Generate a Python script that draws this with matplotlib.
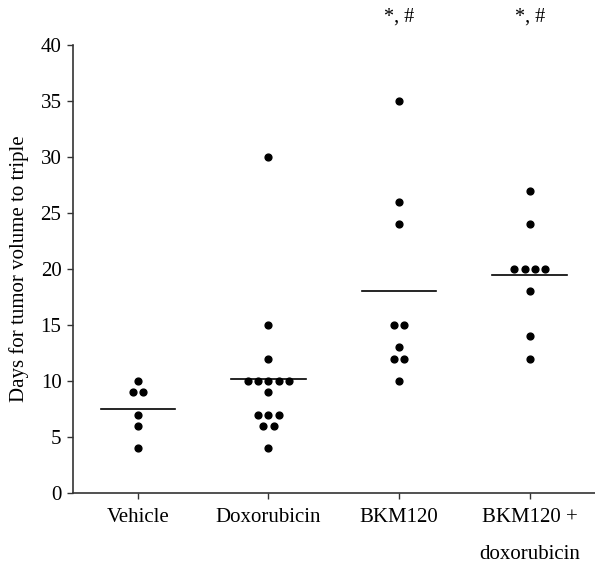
import numpy as np
import matplotlib
matplotlib.use("Agg")
import matplotlib.pyplot as plt

# days for tumor volume to triple, one entry per mouse
groups = ["Vehicle", "Doxorubicin", "BKM120", "BKM120 +\ndoxorubicin"]
vehicle = [10, 9, 9, 7, 6, 4]
doxorubicin = [30, 15, 12, 10, 10, 10, 10, 10, 9, 7, 7, 7, 6, 6, 4]
bkm120 = [35, 26, 24, 15, 15, 13, 12, 12, 10]
bkm120_doxo = [27, 24, 20, 20, 20, 20, 18, 14, 12]
signif = ["", "", "*, #", "*, #"]

data = [vehicle, doxorubicin, bkm120, bkm120_doxo]

plt.rcParams['font.family'] = ['Liberation Serif', 'DejaVu Serif']
fig = plt.figure(figsize=(5.95, 5.67), dpi=100)
ax = fig.add_axes([0.122, 0.1305, 0.878, 0.790])

dx = 0.0795  # horizontal spacing between tied points
for i, vals in enumerate(data):
    x0 = i + 1
    vals = np.array(vals)
    for v in np.unique(vals):
        n = np.sum(vals == v)
        xs = x0 + (np.arange(n) - (n - 1) / 2) * dx
        ax.plot(xs, [v] * n, 'o', color='black', markersize=4.9, clip_on=False)
    m = vals.mean()
    ax.plot([x0 - 0.286, x0 + 0.286], [m, m], color='black', lw=1.2)
    if signif[i]:
        ax.text(x0, 42.5, signif[i], ha='center', va='center', fontsize=14.5, clip_on=False)

ax.set_xlim(0.5, 4.5)
ax.set_ylim(0, 40)
ax.set_yticks(range(0, 41, 5))
ax.set_xticks(range(1, 5))
ax.set_xticklabels(groups, linespacing=2.25, va='top')
ax.set_ylabel('Days for tumor volume to triple', fontsize=15, labelpad=8)

for s in ['top', 'right']:
    ax.spines[s].set_visible(False)
for s in ['left', 'bottom']:
    ax.spines[s].set_color('#333333')
    ax.spines[s].set_linewidth(1.2)
ax.tick_params(axis='both', direction='out', length=4, width=1, color='#333333',
               labelsize=15)
ax.tick_params(axis='x', pad=7)
ax.tick_params(axis='y', pad=4)

fig.savefig('out.png', dpi=100)
